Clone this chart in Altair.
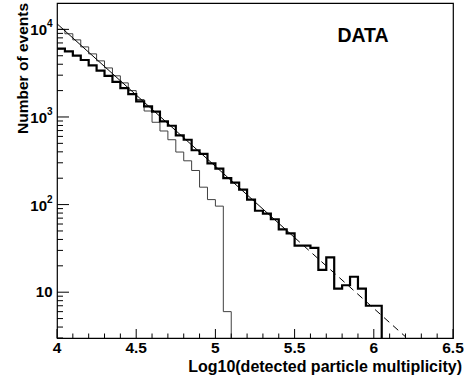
import altair as alt
import pandas as pd

FONT = "Liberation Sans"

# ---------------- data ----------------
bin_left = [4.00, 4.05, 4.10, 4.15, 4.20, 4.25, 4.30, 4.35, 4.40, 4.45,
            4.50, 4.55, 4.60, 4.65, 4.70, 4.75, 4.80, 4.85, 4.90, 4.95,
            5.00, 5.05, 5.10, 5.15, 5.20, 5.25, 5.30, 5.35, 5.40, 5.45,
            5.50, 5.55, 5.60, 5.65, 5.70, 5.75, 5.80, 5.85, 5.90, 5.95,
            6.00]
data_counts = [6030, 5620, 5010, 4470, 3890, 3390, 2950, 2510, 2140, 1820,
               1510, 1320, 1150, 891, 794, 617, 550, 417, 380, 295,
               257, 200, 178, 148, 114, 85, 79, 68, 52, 47,
               34, 34, 32, 18, 25, 11, 12, 15, 11, 7,
               7]
data_end = 6.05

thin_counts = [10000, 8910, 7590, 6310, 5250, 4370, 3630, 2950, 2450, 2000,
               1580, 1170, 870, 692, 550, 398, 316, 245, 158, 114,
               96, 6]
thin_end = 5.10

fit_x = [4.0, 5.5]
fit_y = [11600, 42]
ext_x = [5.5, 6.2]
ext_y = [42, 3.1]

x_major = [4.0, 4.5, 5.0, 5.5, 6.0, 6.5]
x_labels = ["4", "4.5", "5", "5.5", "6", "6.5"]
x_minor = [4.1, 4.2, 4.3, 4.4, 4.6, 4.7, 4.8, 4.9, 5.1, 5.2, 5.3, 5.4,
           5.6, 5.7, 5.8, 5.9, 6.1, 6.2, 6.3, 6.4]
y_major = [10, 100, 1000, 10000]
y_minor = [3, 4, 5, 6, 7, 8, 9, 20, 30, 40, 50, 60, 70, 80, 90,
           200, 300, 400, 500, 600, 700, 800, 900,
           2000, 3000, 4000, 5000, 6000, 7000, 8000, 9000]
y_pow_vals = [100, 1000, 10000]
y_pow_exps = ["2", "3", "4"]
x_title = "Log10(detected particle multiplicity)"
y_title = "Number of events"
BOTTOM = 1  # below the axis minimum: the histogram falls to the axis

# ---------------- tables ----------------
thick_df = pd.DataFrame({"x": bin_left + [data_end], "y": data_counts + [BOTTOM]})
n_thin = len(thin_counts)
thin_df = pd.DataFrame({"x": bin_left[:n_thin] + [thin_end], "y": thin_counts + [BOTTOM]})
fit_df = pd.DataFrame({"x": fit_x, "y": fit_y})
ext_df = pd.DataFrame({"x": ext_x, "y": ext_y})

W, H = 396, 335
xs = alt.Scale(domain=[4, 6.5], nice=False, zero=False)
ys = alt.Scale(type="log", domain=[3, 20000], nice=False)

x_axis = alt.Axis(labels=False, title=None)
y_axis = alt.Axis(labels=False, title=None)

X = lambda f: alt.X(f, scale=xs, axis=x_axis)
Y = lambda f: alt.Y(f, scale=ys, axis=y_axis)

thin = alt.Chart(thin_df).mark_line(interpolate="step-after", color="#404040",
                                    strokeWidth=1, clip=True).encode(x=X("x:Q"), y=Y("y:Q"))
thick = alt.Chart(thick_df).mark_line(interpolate="step-after", color="black",
                                      strokeWidth=2.2, clip=True).encode(x=X("x:Q"), y=Y("y:Q"))
fit = alt.Chart(fit_df).mark_line(color="black", strokeWidth=1, clip=True).encode(
    x=X("x:Q"), y=Y("y:Q"))
ext = alt.Chart(ext_df).mark_line(color="black", strokeWidth=1, strokeDash=[7, 5],
                                  clip=True).encode(x=X("x:Q"), y=Y("y:Q"))

# inward ticks
def xticks(vals, length):
    return alt.Chart(pd.DataFrame({"x": vals})).mark_rule(color="black", strokeWidth=1).encode(
        x=X("x:Q"), y=alt.value(H), y2=alt.value(H - length))

def yticks(vals, length):
    return alt.Chart(pd.DataFrame({"y": vals})).mark_rule(color="black", strokeWidth=1).encode(
        y=Y("y:Q"), x=alt.value(0), x2=alt.value(length))

txt = dict(font=FONT, fontWeight="bold", color="black")

# x tick labels
xlab = alt.Chart(pd.DataFrame({"x": x_major, "t": x_labels})).mark_text(
    align="center", baseline="alphabetic", fontSize=15.5, **txt).encode(
    x=X("x:Q"), y=alt.value(H + 15), text="t:N")

# y labels (10, 10^2, 10^3, 10^4)
ten_lab = alt.Chart(pd.DataFrame({"y": [10], "t": ["10"]})).mark_text(
    align="right", baseline="middle", fontSize=15, **txt).encode(
    y=Y("y:Q"), x=alt.value(-4.5), text="t:N")
pow_base = alt.Chart(pd.DataFrame({"y": y_pow_vals, "t": ["10"] * 3})).mark_text(
    align="right", baseline="middle", fontSize=15, dy=1, **txt).encode(
    y=Y("y:Q"), x=alt.value(-10), text="t:N")
pow_exp = alt.Chart(pd.DataFrame({"y": y_pow_vals, "t": y_pow_exps})).mark_text(
    align="left", baseline="middle", fontSize=10, dy=-5, **txt).encode(
    y=Y("y:Q"), x=alt.value(-10), text="t:N")

# axis titles and the DATA tag
xt = alt.Chart(pd.DataFrame({"t": [x_title]})).mark_text(
    align="right", baseline="alphabetic", fontSize=16, **txt).encode(
    x=alt.value(W + 9), y=alt.value(H + 34), text="t:N")
yt = alt.Chart(pd.DataFrame({"t": [y_title]})).mark_text(
    align="right", baseline="alphabetic", fontSize=15.5, angle=270, **txt).encode(
    x=alt.value(-29), y=alt.value(0), text="t:N")
data_lab = alt.Chart(pd.DataFrame({"t": ["DATA"]})).mark_text(
    align="center", baseline="alphabetic", fontSize=19.5, **txt).encode(
    x=alt.value(306), y=alt.value(38.7), text="t:N")

chart = alt.layer(
    thin, thick, fit, ext,
    xticks(x_major, 9), xticks(x_minor, 4.5),
    yticks(y_major, 12), yticks(y_minor, 6),
    xlab, ten_lab, pow_base, pow_exp, xt, yt, data_lab,
).properties(
    width=W, height=H,
    autosize=alt.AutoSizeParams(type="none"),
    padding={"left": 57, "top": 3, "right": 11, "bottom": 47},
    background="white",
).configure_view(
    stroke="black", strokeWidth=1.2
).configure_axis(
    grid=False, ticks=False, tickSize=0, domain=False, labels=False,
)

chart.save("out.html", embed_options={"renderer": "svg", "actions": False})
